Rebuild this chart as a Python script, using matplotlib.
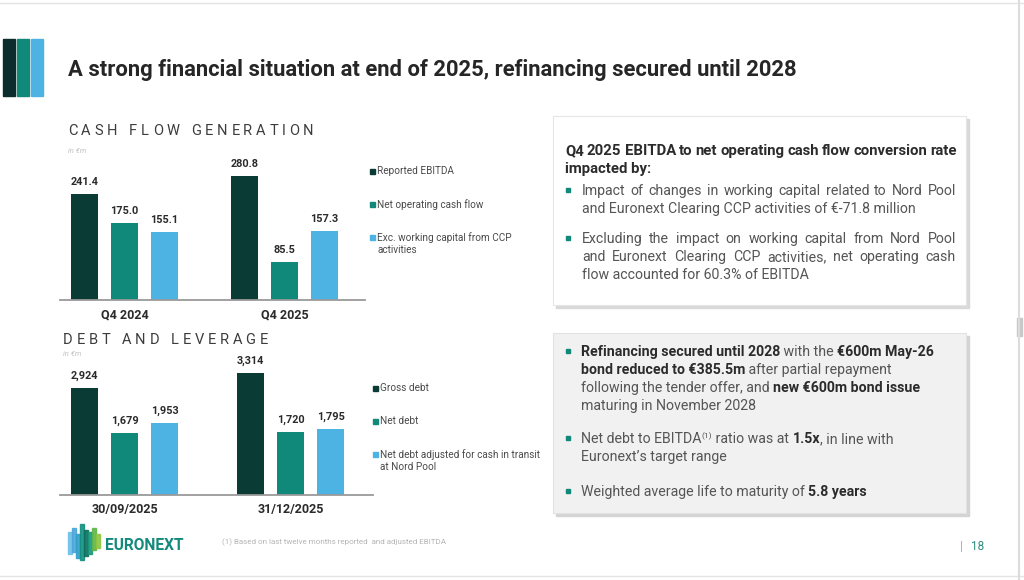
"""
Euronext slide - cash flow generation and debt & leverage bar charts.
"""
import numpy as np
import matplotlib
matplotlib.use("Agg")
import matplotlib.pyplot as plt
from matplotlib.patches import Rectangle

FONT = ["Roboto", "DejaVu Sans"]
plt.rcParams["font.family"] = FONT

DARK = "#0b3b35"
TEAL = "#10897a"
BLUE = "#4cb3e3"
GREY_TXT = "#555555"

# --- data -------------------------------------------------------------
cf_periods = ["Q4 2024", "Q4 2025"]
cf_series = ["Reported EBITDA", "Net operating cash flow",
             "Exc. working capital from CCP\nactivities"]
cf_ebitda = [241.4, 280.8]
cf_net_op = [175.0, 85.5]
cf_exc_wc = [155.1, 157.3]

debt_dates = ["30/09/2025", "31/12/2025"]
debt_series = ["Gross debt", "Net debt",
               "Net debt adjusted for cash in transit\nat Nord Pool"]
debt_gross = [2924, 3314]
debt_net = [1679, 1720]
debt_adj = [1953, 1795]

W, H = 1024, 580
fig = plt.figure(figsize=(W / 100, H / 100), dpi=100)
fig.patch.set_facecolor("white")

bg = fig.add_axes([0, 0, 1, 1])
bg.set_xlim(0, W)
bg.set_ylim(H, 0)
bg.axis("off")
renderer = fig.canvas.get_renderer()


def px_rect(left, top, width, height):
    return [left / W, 1 - (top + height) / H, width / W, height / H]


def text_width(s, size, weight="normal"):
    t1 = bg.text(0, 0, "I" + s + "I", fontsize=size, fontweight=weight)
    t2 = bg.text(0, 0, "II", fontsize=size, fontweight=weight)
    w = t1.get_window_extent(renderer).width - t2.get_window_extent(renderer).width
    t1.remove()
    t2.remove()
    return w


def draw_runs(x, y, runs, size, color):
    """runs: list of (text, weight) or (text, weight, size_scale, dy)."""
    for run in runs:
        s, weight = run[0], run[1]
        scale = run[2] if len(run) > 2 else 1.0
        dy = run[3] if len(run) > 3 else 0
        c = "#2b2b2b" if weight == "bold" else color
        bg.text(x, y + dy, s, fontsize=size * scale, fontweight=weight,
                color=c, va="baseline", ha="left")
        x += text_width(s, size * scale, weight)


def draw_justified(x, y, line, width, size, color, weight="normal"):
    words = line.split(" ")
    widths = [text_width(wd, size, weight) for wd in words]
    gap = (width - sum(widths)) / (len(words) - 1)
    for wd, w in zip(words, widths):
        bg.text(x, y, wd, fontsize=size, fontweight=weight, color=color,
                va="baseline", ha="left")
        x += w + gap


def draw_tracked(x, y, s, size, tracking, color):
    for ch in s:
        if ch == " ":
            x += size * 0.45 + tracking
            continue
        bg.text(x, y, ch, fontsize=size, color=color, va="baseline", ha="left")
        x += text_width(ch, size) + tracking


# --- slide frame ------------------------------------------------------
bg.plot([0, W], [3, 3], color="#e4e4e4", lw=1)
bg.plot([0, W], [576, 576], color="#e4e4e4", lw=1)
bg.plot([1019, 1019], [0, H], color="#dcdcdc", lw=1.5)
bg.add_patch(Rectangle((1017, 318), 5, 18, color="#c8c8c8"))

# header bars
for x0, w, c in [(3, 12, "#0d2c2e"), (17, 12, TEAL), (31, 12, BLUE)]:
    bg.add_patch(Rectangle((x0, 39), w, 57, color=c))

bg.text(68, 70, "A strong financial situation at end of 2025, refinancing secured until 2028",
        fontsize=15.8, fontweight="bold", color="#262626", va="center", ha="left")

# section titles
draw_tracked(68, 135, "CASH FLOW GENERATION", 10.5, 3.7, "#3c3c3c")
bg.text(68, 151, "in €m", fontsize=5.5, color="#c4c4c4", style="italic", va="center")
draw_tracked(63, 344, "DEBT AND LEVERAGE", 10.5, 3.7, "#3c3c3c")
bg.text(63, 354, "in €m", fontsize=5.5, color="#c4c4c4", style="italic", va="center")


# --- charts -----------------------------------------------------------
def bar_chart(rect, groups, values, labels_fmt, ylim, group_px, left_px):
    ax = fig.add_axes(rect)
    x = np.arange(len(groups))
    offsets = [-0.25, 0.0, 0.25]
    colors = [DARK, TEAL, BLUE]
    for vals, off, c in zip(values, offsets, colors):
        bars = ax.bar(x + off * 160 / group_px, vals, width=0.165 * 160 / group_px,
                      color=c, zorder=2)
        ax.bar_label(bars, labels=[labels_fmt(v) for v in vals], padding=5,
                     fontsize=7.8, fontweight="bold", color="#2b2b2b")
    width_px = rect[2] * W
    ax.set_xlim(-left_px / group_px, (width_px - left_px) / group_px)
    ax.set_ylim(*ylim)
    ax.set_xticks(x)
    ax.set_xticklabels(groups, fontsize=9, fontweight="bold", color="#2b2b2b")
    ax.tick_params(axis="x", length=0, pad=6)
    ax.set_yticks([])
    for s in ["top", "left", "right"]:
        ax.spines[s].set_visible(False)
    ax.spines["bottom"].set_color("#9a9a9a")
    ax.spines["bottom"].set_linewidth(1.3)
    ax.patch.set_alpha(0)
    return ax


bar_chart(px_rect(60, 160, 305, 140), cf_periods, [cf_ebitda, cf_net_op, cf_exc_wc],
          lambda v: f"{v:.1f}", (0, 318), 160, 64.5)
bar_chart(px_rect(60, 355, 313, 140), debt_dates, [debt_gross, debt_net, debt_adj],
          lambda v: f"{v:,.0f}", (0, 3815), 166, 64.5)


def legend(x, ys, names):
    for y, name, c in zip(ys, names, [DARK, TEAL, BLUE]):
        bg.add_patch(Rectangle((x, y - 3), 5, 5, color=c))
        bg.text(x + 7, y - 6, name, fontsize=7.2, color="#4a4a4a", va="top",
                ha="left", linespacing=1.25)


legend(370, [172, 205, 238], cf_series)
legend(373, [389, 422, 455], debt_series)

# --- text boxes -------------------------------------------------------
bg.add_patch(Rectangle((556, 119), 413, 189, color="#d9d9d9", zorder=0))
bg.add_patch(Rectangle((553, 116), 413, 189, facecolor="white",
                       edgecolor="#e6e6e6", lw=0.8, zorder=0))
bg.add_patch(Rectangle((556, 336), 413, 180, color="#d4d4d4", zorder=0))
bg.add_patch(Rectangle((553, 333), 413, 180, facecolor="#f1f1f1",
                       edgecolor="#e2e2e2", lw=0.8, zorder=0))

SZ = 10.2
draw_justified(565, 155, "Q4 2025 EBITDA to net operating cash flow conversion rate",
               392, 10.7, "#2b2b2b", "bold")
draw_runs(565, 173, [("impacted by:", "bold")], 10.7, GREY_TXT)

box1 = [
    [195, 213],
    [243, 261, 279],
]
box1_lines = [
    ["Impact of changes in working capital related to Nord Pool",
     "and Euronext Clearing CCP activities of €-71.8 million"],
    ["Excluding the impact on working capital from Nord Pool",
     "and Euronext Clearing CCP activities, net operating cash",
     "flow accounted for 60.3% of EBITDA"],
]
for ys, lines in zip(box1, box1_lines):
    bg.add_patch(Rectangle((566, ys[0] - 7), 4, 4, color=TEAL))
    for i, (y, line) in enumerate(zip(ys, lines)):
        if i < len(lines) - 1:
            draw_justified(582, y, line, 374, SZ, GREY_TXT)
        else:
            draw_runs(582, y, [(line, "normal")], SZ, GREY_TXT)

box2 = [
    ([356, 374, 392, 410], [
        [("Refinancing secured until 2028", "bold"), (" with the ", "normal"),
         ("€600m May-26", "bold")],
        [("bond reduced to €385.5m", "bold"), (" after partial repayment", "normal")],
        [("following the tender offer, and ", "normal"), ("new €600m bond issue", "bold")],
        [("maturing in November 2028", "normal")],
    ]),
    ([443, 461], [
        [("Net debt to EBITDA", "normal"), ("(1)", "normal", 0.6, -5),
         (" ratio was at ", "normal"), ("1.5x", "bold"), (", in line with", "normal")],
        [("Euronext’s target range", "normal")],
    ]),
    ([496], [
        [("Weighted average life to maturity of ", "normal"), ("5.8 years", "bold")],
    ]),
]
for ys, lines in box2:
    bg.add_patch(Rectangle((566, ys[0] - 7), 4, 4, color=TEAL))
    for y, runs in zip(ys, lines):
        draw_runs(581, y, runs, SZ, GREY_TXT)

# --- footer -----------------------------------------------------------
logo = [
    (68, 532, 554, "#6cc0e8"), (72, 528, 552, "#4aa6d8"), (76, 534, 558, "#2f9fc9"),
    (80, 524, 560, "#139081"), (84, 530, 556, "#0c6e5f"), (88, 532, 554, "#18987a"),
    (92, 528, 550, "#5fb548"), (96, 534, 548, "#8cc63f"),
]
for x0, top, bot, c in logo:
    bg.add_patch(Rectangle((x0, top), 4, bot - top, color=c, alpha=0.9))
bg.text(105, 545, "EURONEXT", fontsize=11.2, fontweight="bold", color="#138a7c",
        va="center", ha="left")
bg.text(222, 542, "(1) Based on last twelve months reported  and adjusted EBITDA",
        fontsize=5.8, color="#b5b5b5", va="center", ha="left")
bg.text(960, 546, "|", fontsize=9, color="#7fb9b0", va="center", ha="left")
bg.text(971, 546, "18", fontsize=8.5, color="#2e8c80", va="center", ha="left")

fig.savefig("out.png", dpi=100)
plt.close(fig)
